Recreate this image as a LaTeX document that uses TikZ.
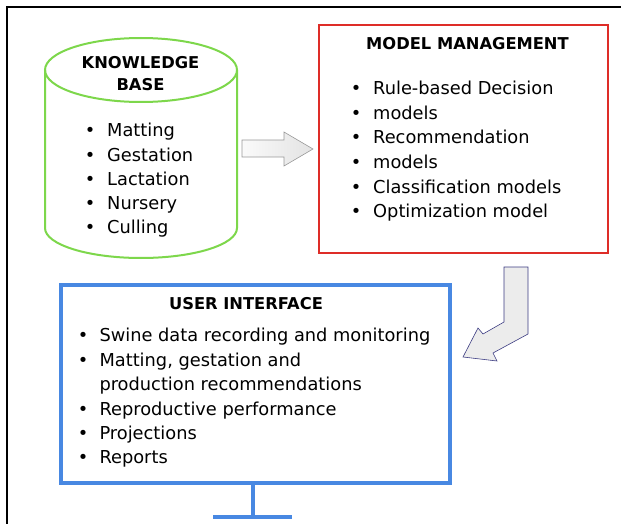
\documentclass[tikz,border=0pt]{standalone}
\usepackage{fontspec}
\setmainfont{DejaVu Sans}
\definecolor{kbgreen}{RGB}{125,215,75}
\definecolor{mmred}{RGB}{222,45,40}
\definecolor{uiblue}{RGB}{72,136,226}
\definecolor{arrline}{RGB}{60,60,130}
\tikzset{
  txt/.style={anchor=base west, inner sep=0pt, font=\fontsize{17.8}{21}\selectfont},
  bul/.style={anchor=base, inner sep=0pt, font=\fontsize{17.8}{21}\selectfont},
  ttl/.style={anchor=base, inner sep=0pt, font=\fontsize{16.3}{20}\selectfont\bfseries},
}
\begin{document}
\begin{tikzpicture}[x=1pt,y=-1pt]
\useasboundingbox (0,0) rectangle (621,524);
% outer frame
\draw[line width=2pt] (7,524) -- (7,7) -- (621,7);

% knowledge base cylinder
\draw[kbgreen, line width=2pt, fill=white]
  (45,70) -- (45,228) arc[start angle=180, end angle=0, x radius=96, y radius=30] -- (237,70);
\draw[kbgreen, line width=2pt] (141,70) ellipse[x radius=96, y radius=32];
\node[ttl] (kbt1) at (140.5,68.5) {KNOWLEDGE};
\node[ttl] (kbt2) at (140.5,91) {BASE};
\foreach \t [count=\i] in {Matting,Gestation,Lactation,Nursery,Culling}{
  \node[bul] (kbb\i) at (90,{137+24.1*(\i-1)}) {•};
  \node[txt] (kbi\i) at (107,{137+24.1*(\i-1)}) {\t};
}

% right block arrow
\shade[left color=gray!4, right color=gray!22, draw=gray!80, line width=0.6pt]
  (242,140) -- (284,140) -- (284,132) -- (313,149) -- (284,166) -- (284,157) -- (242,157) -- cycle;

% model management box
\node[draw=mmred, line width=2pt, minimum width=289pt, minimum height=228pt, anchor=north west, inner sep=0pt] (mm) at (318,24) {};
\node[ttl] (mmt) at (467.5,49.3) {MODEL MANAGEMENT};
\foreach \t [count=\i] in {Rule-based Decision,models,Recommendation,models,Classification models,Optimization model}{
  \node[bul] (mmb\i) at (356,{95+24.5*(\i-1)}) {•};
  \node[txt] (mmi\i) at (373,{95+24.5*(\i-1)}) {\t};
}

% down-left block arrow
\fill[gray!15, draw=arrline, line width=0.6pt]
  (504,267) -- (528,267) -- (528,334) -- (493,353) -- (497,361) -- (463,357)
  -- (478,328) -- (483,334) -- (504,322) -- cycle;

% user interface monitor
\node[draw=uiblue, line width=4pt, minimum width=389pt, minimum height=198pt, anchor=north west, inner sep=0pt] (ui) at (59,283) {};
\coordinate (stbot) at (253,517);
\draw[uiblue, line width=4pt] (ui.south -| stbot) -- (stbot);
\coordinate (stl) at (213,517);
\coordinate (str) at (292,517);
\draw[uiblue, line width=4pt] (stl) -- (str);
\node[ttl] (uit) at (246,309.3) {USER INTERFACE};
\node[bul] (uib1) at (83,341.8) {•};
\node[txt] (uii1) at (99.3,341.8) {Swine data recording and monitoring};
\node[bul] (uib2) at (83,366.2) {•};
\node[txt] (uii2) at (99.3,366.2) {Matting, gestation and};
\node[txt] (uii2b) at (99.3,390.5) {production recommendations};
\node[bul] (uib3) at (83,415) {•};
\node[txt] (uii3) at (99.3,415) {Reproductive performance};
\node[bul] (uib4) at (83,439.3) {•};
\node[txt] (uii4) at (99.3,439.3) {Projections};
\node[bul] (uib5) at (83,463.5) {•};
\node[txt] (uii5) at (99.3,463.5) {Reports};
\end{tikzpicture}
\end{document}
